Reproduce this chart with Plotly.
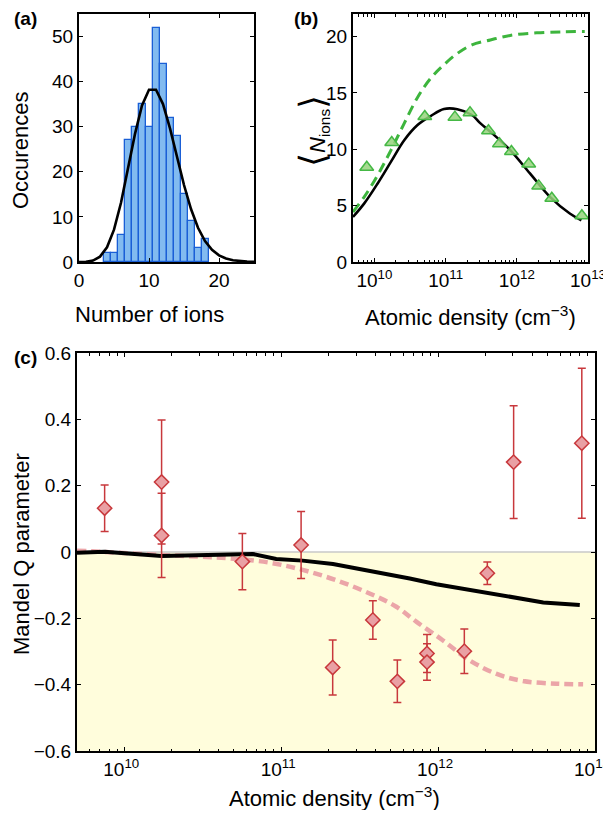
import plotly.graph_objects as go

# ---------------- data ----------------
# (a) histogram of ion number
hist_bins = [4, 5, 6, 7, 8, 9, 10, 11, 12, 13, 14, 15, 16, 17, 18]
hist_counts = [2, 2, 6, 27, 30, 35, 30, 52, 44, 32, 28, 15, 9, 3, 5]
fit_n = [0, 1, 2, 3, 4, 5, 6, 7, 8, 9, 10, 11, 12, 13, 14, 15, 16, 17, 18, 19, 20, 21, 22, 23, 24, 25]
fit_counts = [0.01, 0.06, 0.32, 1.19, 3.26, 7.17, 13.15, 20.66, 28.41, 34.73, 38.20, 38.20, 35.02,
              29.63, 23.28, 17.07, 11.74, 7.59, 4.64, 2.69, 1.48, 0.77, 0.39, 0.19, 0.08, 0.04]

# (b) mean ion number vs density
density_b = [7.8e9, 1.75e10, 5.1e10, 1.35e11, 2.2e11, 4.0e11, 5.7e11, 8.4e11, 1.47e12, 2.03e12, 3.1e12, 8.2e12]
nions_b = [8.4, 10.6, 12.9, 12.85, 13.25, 11.65, 10.5, 9.8, 8.7, 6.75, 5.65, 4.1]
model_x_b = [5.0e9, 7.2e9, 1.11e10, 1.71e10, 2.62e10, 4.03e10, 6.17e10, 9.48e10, 1.46e11, 2.34e11,
             3.09e11, 4.25e11, 8.07e11, 1.53e12, 2.92e12, 5.55e12, 8.07e12]
model_y_b = [4.0, 5.2, 6.97, 8.9, 10.8, 12.15, 12.95, 13.57, 13.55, 13.04, 12.3, 11.56, 9.93, 7.86, 5.78, 4.3, 3.7]
nolimit_x_b = [5.0e9, 7.2e9, 1.11e10, 1.71e10, 2.62e10, 4.03e10, 6.17e10, 9.48e10, 1.46e11, 2.34e11,
               4.25e11, 8.07e11, 1.9e12, 4.47e12, 9.0e12]
nolimit_y_b = [4.44, 5.78, 7.7, 9.93, 12.3, 14.6, 16.3, 17.5, 18.5, 19.26, 19.7, 20.1, 20.33, 20.42, 20.45]

# (c) Mandel Q parameter
density_c = [7.5e9, 1.73e10, 1.73e10, 5.66e10, 1.34e11, 2.13e11, 3.84e11, 5.5e11, 8.5e11, 8.5e11,
             1.47e12, 2.06e12, 3.03e12, 8.24e12]
mandel_q = [0.132, 0.211, 0.050, -0.029, 0.021, -0.348, -0.205, -0.390, -0.306, -0.332, -0.299, -0.064, 0.271, 0.328]
q_err = [0.070, 0.187, 0.127, 0.085, 0.101, 0.083, 0.058, 0.064, 0.057, 0.055, 0.067, 0.034, 0.170, 0.226]
model_x_c = [5.0e9, 7.5e9, 1.73e10, 3.01e10, 6.6e10, 9.3e10, 1.37e11, 2.14e11, 3.66e11, 6.6e11,
             9.75e11, 1.75e12, 2.86e12, 4.68e12, 8.0e12]
model_y_c = [-0.002, 0.001, -0.012, -0.010, -0.006, -0.021, -0.026, -0.036, -0.056, -0.080,
             -0.097, -0.117, -0.135, -0.152, -0.160]
alt_x_c = [5.0e9, 7.5e9, 1.73e10, 3.01e10, 4.68e10, 8.4e10, 1.37e11, 2.24e11, 3.66e11, 5.42e11,
           7.26e11, 1.07e12, 1.58e12, 2.34e12, 3.47e12, 5.69e12, 8.4e12]
alt_y_c = [0.004, 0.0, -0.009, -0.014, -0.019, -0.032, -0.054, -0.085, -0.125, -0.165,
           -0.21, -0.266, -0.326, -0.367, -0.389, -0.397, -0.399]

log_ticks = [1e10, 1e11, 1e12, 1e13]
log_tick_text = ["10<sup>10</sup>", "10<sup>11</sup>", "10<sup>12</sup>", "10<sup>13</sup>"]

# ---------------- figure ----------------
# The page body has an 8px margin, so the figure starts 8px in from the window corner;
# keep the page within the window so no scrollbar appears.
OFF = 8
W, H = 611 - OFF, 818 - 2 * OFF
FONT = "Liberation Sans, Arial, Helvetica, sans-serif"
TICKFONT = dict(family=FONT, size=19, color="black")

def px_x(p):
    return (p - OFF) / W

def px_y(p):
    return 1 - (p - OFF) / H

fig = go.Figure()

fig.add_trace(go.Bar(x=hist_bins, y=hist_counts, width=1,
                     marker=dict(color="#82BBF0", line=dict(color="#1A5FD6", width=1.3)),
                     xaxis="x", yaxis="y", showlegend=False))
fig.add_trace(go.Scatter(x=fit_n, y=fit_counts, mode="lines",
                         line=dict(color="black", width=2.6),
                         xaxis="x", yaxis="y", showlegend=False))

fig.add_trace(go.Scatter(x=nolimit_x_b, y=nolimit_y_b, mode="lines", line_shape="spline",
                         line=dict(color="#3DB53D", width=3, dash="10px,6px"),
                         xaxis="x2", yaxis="y2", showlegend=False))
fig.add_trace(go.Scatter(x=model_x_b, y=model_y_b, mode="lines", line_shape="spline",
                         line=dict(color="black", width=2.6),
                         xaxis="x2", yaxis="y2", showlegend=False))
fig.add_trace(go.Scatter(x=density_b, y=nions_b, mode="markers",
                         marker=dict(symbol="triangle-up", size=12, color="rgba(150,212,125,0.85)",
                                     line=dict(color="#45B845", width=1.5)),
                         xaxis="x2", yaxis="y2", showlegend=False))

fig.add_trace(go.Scatter(x=alt_x_c, y=alt_y_c, mode="lines", line_shape="spline",
                         line=dict(color="#EBA5A8", width=4.5, dash="9px,5px"),
                         xaxis="x3", yaxis="y3", showlegend=False))
fig.add_trace(go.Scatter(x=model_x_c, y=model_y_c, mode="lines",
                         line=dict(color="black", width=4),
                         xaxis="x3", yaxis="y3", showlegend=False))
fig.add_trace(go.Scatter(x=density_c, y=mandel_q, mode="markers",
                         error_y=dict(type="data", array=q_err, color="#C8383C", thickness=1.5, width=4),
                         marker=dict(symbol="diamond", size=11, color="#E9A0A4",
                                     line=dict(color="#C8383C", width=1.5)),
                         xaxis="x3", yaxis="y3", showlegend=False))

common_axis = dict(showline=True, linecolor="black", linewidth=2, mirror="allticks",
                   ticks="inside", ticklen=4, tickwidth=1, tickcolor="black", automargin=False,
                   showgrid=False, zeroline=False, tickfont=TICKFONT, ticklabeloverflow="allow")

minor_vals = [m * 10 ** k for k in range(9, 13) for m in range(2, 10) if 5e9 <= m * 10 ** k <= 1e13]
log_minor = dict(tickvals=minor_vals, ticks="inside", ticklen=2.5, tickwidth=1, tickcolor="black")

fig.update_layout(
    width=W, height=H,
    margin=dict(l=0, r=0, t=0, b=0, autoexpand=False),
    paper_bgcolor="white", plot_bgcolor="white",
    font=dict(family=FONT, color="black"),
    bargap=0,
    xaxis=dict(domain=[px_x(79), px_x(254)], range=[0, 25], tickvals=[0, 10, 20],
               anchor="y", **common_axis),
    yaxis=dict(domain=[px_y(262), px_y(14)], range=[0, 55], tickvals=[0, 10, 20, 30, 40, 50],
               anchor="x", **common_axis),
    xaxis2=dict(domain=[px_x(353), px_x(588)], type="log", range=[9.699, 13],
                tickvals=log_ticks, ticktext=log_tick_text, minor=log_minor,
                anchor="y2", **common_axis),
    yaxis2=dict(domain=[px_y(262), px_y(14)], range=[0, 22], tickvals=[0, 5, 10, 15, 20],
                anchor="x2", **common_axis),
    xaxis3=dict(domain=[px_x(77), px_x(595)], type="log", range=[9.699, 13],
                tickvals=log_ticks, ticktext=log_tick_text, minor=log_minor,
                ticklabelshift=-3, anchor="y3", **common_axis),
    yaxis3=dict(domain=[px_y(751), px_y(353)], range=[-0.6, 0.6],
                tickvals=[-0.6, -0.4, -0.2, 0, 0.2, 0.4, 0.6],
                ticktext=["\u22120.6", "\u22120.4", "\u22120.2", "0", "0.2", "0.4", "0.6"],
                anchor="x3", **common_axis),
)

fig.add_shape(type="rect", xref="x3 domain", yref="y3", x0=0, x1=1, y0=-0.6, y1=0,
              fillcolor="#FFFDDC", line=dict(width=0), layer="below")
fig.add_shape(type="line", xref="x3 domain", yref="y3", x0=0, x1=1, y0=0, y1=0,
              line=dict(color="#C8C8C8", width=1.5), layer="below")

TITLEFONT = dict(family=FONT, size=22, color="black")
ann = [
    dict(text="<b>(a)</b>", x=px_x(25), y=px_y(18), font=dict(family=FONT, size=19)),
    dict(text="<b>(b)</b>", x=px_x(306), y=px_y(18), font=dict(family=FONT, size=19)),
    dict(text="<b>(c)</b>", x=px_x(25), y=px_y(357), font=dict(family=FONT, size=19)),
    dict(text="Occurences", x=px_x(21), y=px_y(151), textangle=-90, font=TITLEFONT),
    dict(text="Number of ions", x=px_x(149), y=px_y(314), font=TITLEFONT),
    dict(text="<span style='font-size:36px'>\u27e8</span><i>N</i><sub>ions</sub><span style='font-size:36px'>\u27e9</span>",
         x=px_x(313), y=px_y(131), textangle=-90, font=TITLEFONT),
    dict(text="Atomic density (cm<sup>\u22123</sup>)", x=px_x(470), y=px_y(316), font=TITLEFONT),
    dict(text="Mandel Q parameter", x=px_x(21), y=px_y(554), textangle=-90, font=TITLEFONT),
    dict(text="Atomic density (cm<sup>\u22123</sup>)", x=px_x(334), y=px_y(797), font=TITLEFONT),
]
for a in ann:
    fig.add_annotation(xref="paper", yref="paper", showarrow=False,
                       xanchor="center", yanchor="middle", **a)

fig.write_html("out.html")
